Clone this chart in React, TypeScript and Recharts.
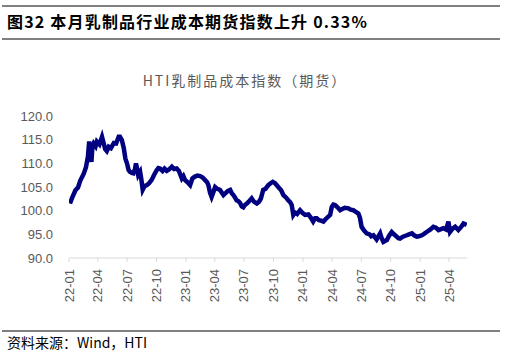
import { LineChart, Line, XAxis, YAxis } from "recharts";

const dates = [
  "2022-01-04", "2022-01-10", "2022-01-21", "2022-01-29", "2022-02-05", "2022-02-16", "2022-02-23",
  "2022-03-01", "2022-03-05", "2022-03-09", "2022-03-12", "2022-03-15", "2022-03-19", "2022-03-25",
  "2022-03-29", "2022-04-06", "2022-04-14", "2022-04-19", "2022-04-24", "2022-04-29", "2022-05-05",
  "2022-05-12", "2022-05-21", "2022-05-28", "2022-06-05", "2022-06-09", "2022-06-15", "2022-06-21",
  "2022-06-26", "2022-07-01", "2022-07-06", "2022-07-10", "2022-07-16", "2022-07-21", "2022-07-26",
  "2022-07-29", "2022-08-01", "2022-08-05", "2022-08-11", "2022-08-15", "2022-08-19", "2022-08-25",
  "2022-09-01", "2022-09-08", "2022-09-16", "2022-09-23", "2022-10-02", "2022-10-07", "2022-10-12",
  "2022-10-20", "2022-10-26", "2022-11-02", "2022-11-09", "2022-11-18", "2022-11-25", "2022-12-03",
  "2022-12-10", "2022-12-19", "2022-12-24", "2022-12-29", "2023-01-06", "2023-01-14", "2023-01-21",
  "2023-01-29", "2023-02-06", "2023-02-14", "2023-02-22", "2023-03-01", "2023-03-08", "2023-03-12",
  "2023-03-17", "2023-03-22", "2023-03-28", "2023-04-02", "2023-04-09", "2023-04-17", "2023-04-23",
  "2023-04-28", "2023-05-06", "2023-05-12", "2023-05-19", "2023-05-24", "2023-05-29", "2023-06-03",
  "2023-06-08", "2023-06-14", "2023-06-19", "2023-06-24", "2023-06-29", "2023-07-04", "2023-07-10",
  "2023-07-17", "2023-07-25", "2023-08-01", "2023-08-10", "2023-08-17", "2023-08-23", "2023-08-30",
  "2023-09-06", "2023-09-15", "2023-09-22", "2023-09-29", "2023-10-06", "2023-10-16", "2023-10-25",
  "2023-11-01", "2023-11-09", "2023-11-16", "2023-11-22", "2023-11-27", "2023-12-02", "2023-12-07",
  "2023-12-14", "2023-12-23", "2023-12-31", "2024-01-08", "2024-01-18", "2024-01-26", "2024-02-02",
  "2024-02-08", "2024-02-13", "2024-02-20", "2024-02-27", "2024-03-05", "2024-03-13", "2024-03-21",
  "2024-03-26", "2024-03-31", "2024-04-05", "2024-04-10", "2024-04-18", "2024-04-26", "2024-05-04",
  "2024-05-11", "2024-05-22", "2024-05-29", "2024-06-06", "2024-06-13", "2024-06-22", "2024-06-27",
  "2024-07-02", "2024-07-10", "2024-07-18", "2024-07-27", "2024-08-01", "2024-08-08", "2024-08-18",
  "2024-08-24", "2024-08-29", "2024-09-02", "2024-09-08", "2024-09-13", "2024-09-19", "2024-09-26",
  "2024-10-04", "2024-10-11", "2024-10-20", "2024-10-25", "2024-10-30", "2024-11-08", "2024-11-20",
  "2024-11-27", "2024-12-06", "2024-12-13", "2024-12-21", "2024-12-28", "2025-01-06", "2025-01-13",
  "2025-01-21", "2025-02-01", "2025-02-11", "2025-02-19", "2025-02-27", "2025-03-07", "2025-03-14",
  "2025-03-23", "2025-03-30", "2025-04-04", "2025-04-12", "2025-04-20", "2025-04-30", "2025-05-08",
  "2025-05-16", "2025-05-26",
];

const values = [
  101.5, 102.6, 104.3, 104.9, 106.3, 107.8, 109.2,
  111.4, 114.6, 112.0, 110.3, 113.5, 114.2, 113.6,
  114.6, 114.0, 115.6, 114.3, 113.0, 112.6, 113.5,
  113.2, 114.3, 114.2, 115.6, 115.6, 114.9, 113.2,
  111.0, 110.0, 108.6, 108.2, 108.0, 107.9, 108.8,
  110.0, 109.0, 107.5, 108.2, 106.5, 104.4, 105.2,
  105.4, 105.8, 106.5, 107.5, 108.6, 109.0, 108.9,
  108.4, 108.9, 108.4, 108.7, 109.3, 108.8, 108.9,
  108.4, 106.8, 107.3, 106.5, 106.0, 105.4, 106.8,
  107.2, 107.4, 107.3, 107.0, 106.5, 106.0, 105.4,
  103.8, 102.9, 104.0, 105.0, 104.6, 104.4, 103.8,
  103.3, 103.8, 104.2, 104.4, 103.7, 103.3, 102.8,
  102.2, 102.0, 101.6, 100.9, 100.7, 101.2, 101.5,
  102.0, 102.6, 101.9, 101.5, 101.9, 102.6, 104.4,
  104.6, 105.4, 105.8, 106.1, 105.8, 105.0, 104.3,
  103.3, 102.8, 102.2, 101.8, 101.2, 99.1, 99.6,
  99.3, 100.1, 99.5, 99.1, 99.2, 98.5, 97.7,
  98.4, 98.4, 98.0, 97.9, 97.7, 98.3, 98.8,
  99.1, 100.8, 101.3, 101.2, 100.7, 100.1, 100.4,
  100.6, 100.5, 100.2, 100.1, 99.8, 99.4, 98.5,
  96.6, 95.8, 95.2, 95.0, 94.6, 94.8, 93.9,
  94.6, 95.2, 94.3, 93.4, 93.6, 93.8, 94.7,
  95.5, 95.0, 94.5, 94.2, 94.1, 94.5, 94.8,
  95.0, 95.2, 94.8, 94.5, 94.6, 94.8, 95.1,
  95.5, 96.0, 96.6, 96.4, 95.9, 96.1, 96.3,
  96.0, 97.7, 95.5, 96.2, 96.6, 95.9, 96.5,
  97.3, 97.0,
];

const tickDates = [
  "2022-01-01", "2022-04-01", "2022-07-01", "2022-10-01",
  "2023-01-01", "2023-04-01", "2023-07-01", "2023-10-01",
  "2024-01-01", "2024-04-01", "2024-07-01", "2024-10-01",
  "2025-01-01", "2025-04-01",
];

const yTicks = [90, 95, 100, 105, 110, 115, 120];

const data = dates.map((d, i) => ({ t: Date.parse(d), v: values[i] }));
const xTicks = tickDates.map((d) => Date.parse(d));

const fmtDate = (t: number) => {
  const d = new Date(t);
  const yy = String(d.getUTCFullYear()).slice(2);
  const mm = String(d.getUTCMonth() + 1).padStart(2, "0");
  return `${yy}-${mm}`;
};

const XTick = (props: any) => {
  const { x, y, payload } = props;
  return (
    <text
      x={0}
      y={0}
      transform={`translate(${x + 4.5},${y + 5}) rotate(-90)`}
      textAnchor="end"
      fill="#595959"
      fontSize={13}
      fontFamily="'Liberation Sans', Arial, sans-serif"
    >
      {fmtDate(payload.value)}
    </text>
  );
};

export default function App() {
  return (
    <div
      style={{
        position: "absolute",
        left: 0,
        top: 0,
        width: 506,
        height: 353,
        background: "#fff",
        fontFamily: "'Noto Sans CJK SC', sans-serif",
      }}
    >
      <div style={{ position: "absolute", left: 2, top: 5, width: 498, height: 2, background: "#808080" }} />
      <div
        style={{
          position: "absolute",
          left: 7,
          top: 10,
          fontSize: 16,
          fontWeight: 700,
          letterSpacing: 1.2,
          color: "#000",
          whiteSpace: "nowrap",
          lineHeight: "22px",
        }}
      >
        图32 本月乳制品行业成本期货指数上升 0.33%
      </div>
      <div style={{ position: "absolute", left: 2, top: 38, width: 498, height: 2, background: "#808080" }} />

      <div
        style={{
          position: "absolute",
          left: 0,
          width: 490,
          top: 70,
          textAlign: "center",
          fontSize: 14,
          letterSpacing: 2,
          color: "#595959",
          lineHeight: "20px",
        }}
      >
        HTI乳制品成本指数（期货）
      </div>

      <div style={{ position: "absolute", left: 0, top: 0 }}>
        <LineChart
          width={506}
          height={353}
          data={data}
          margin={{ top: 116, right: 39, bottom: 45, left: 0 }}
        >
          <XAxis
            dataKey="t"
            type="number"
            scale="time"
            domain={[Date.parse("2022-01-01"), Date.parse("2025-05-27")]}
            ticks={xTicks}
            tick={<XTick />}
            height={50}
            stroke="#d9d9d9"
            tickSize={4}
            interval={0}
            allowDataOverflow
          />
          <YAxis
            domain={[90, 120]}
            ticks={yTicks}
            width={69}
            axisLine={false}
            tickLine={false}
            tickMargin={10}
            tickFormatter={(v: number) => v.toFixed(1)}
            tick={{ fill: "#595959", fontSize: 13, fontFamily: "'Liberation Sans', Arial, sans-serif" }}
            interval={0}
          />
          <Line
            type="linear"
            dataKey="v"
            stroke="#000080"
            strokeWidth={4.5}
            dot={false}
            isAnimationActive={false}
          />
        </LineChart>
      </div>

      <div style={{ position: "absolute", left: 2, top: 330, width: 498, height: 1.5, background: "#808080" }} />
      <div
        style={{
          position: "absolute",
          left: 7,
          top: 334,
          fontSize: 14,
          color: "#000",
          lineHeight: "17px",
          whiteSpace: "nowrap",
        }}
      >
        资料来源：Wind，HTI
      </div>
    </div>
  );
}
